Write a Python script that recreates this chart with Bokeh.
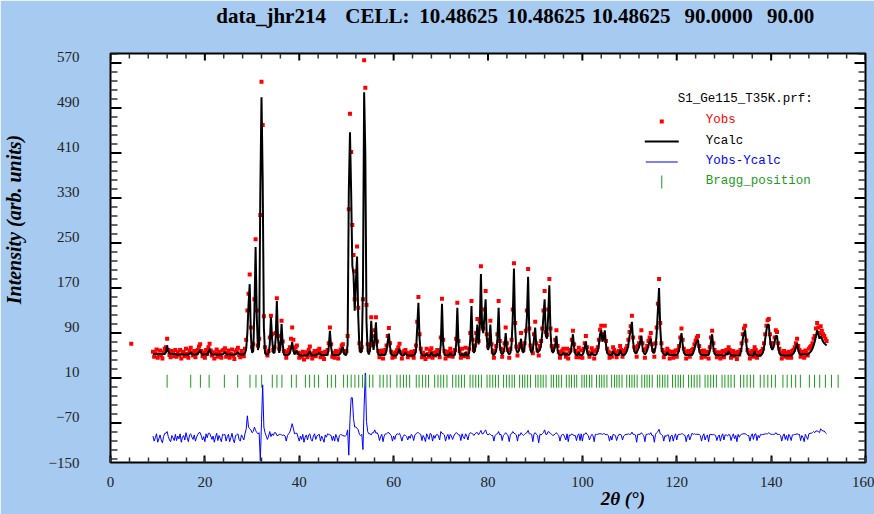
import numpy as np
from bokeh.plotting import figure
from bokeh.models import Range1d, LinearAxis, FixedTicker, Label
from bokeh.embed import file_html
from bokeh.resources import INLINE

# ---------------- data ----------------
two_theta_start = 9.0
two_theta_step = 0.25

y_calc = [
    43, 43, 43, 43, 43, 43, 43, 43, 43, 43, 43, 46, 58, 47, 44, 43, 43, 43, 43, 43,
    42, 42, 42, 42, 42, 42, 42, 42, 42, 42, 42, 43, 46, 43, 42, 42, 42, 42, 43, 46,
    50, 44, 42, 42, 42, 42, 42, 46, 52, 45, 42, 42, 42, 42, 42, 42, 42, 42, 42, 42,
    44, 46, 43, 42, 42, 42, 42, 42, 42, 42, 42, 44, 46, 43, 42, 42, 42, 42, 44, 52,
    80, 130, 167, 75, 45, 48, 120, 233, 110, 50, 60, 330, 499, 355, 90, 45, 42, 42, 44, 60,
    108, 70, 45, 45, 70, 137, 70, 45, 55, 96, 60, 42, 41, 41, 41, 42, 44, 52, 64, 50,
    42, 46, 49, 43, 41, 40, 40, 40, 40, 40, 40, 40, 44, 48, 43, 40, 40, 40, 41, 42,
    43, 45, 42, 41, 41, 41, 41, 41, 42, 55, 84, 55, 42, 41, 41, 41, 41, 41, 42, 44,
    52, 55, 44, 41, 42, 60, 330, 437, 330, 200, 184, 120, 170, 216, 110, 55, 45, 48, 160, 508,
    400, 100, 48, 42, 50, 102, 65, 50, 70, 99, 55, 42, 41, 41, 42, 41, 41, 42, 50, 65,
    79, 55, 42, 41, 40, 40, 40, 42, 48, 52, 43, 40, 40, 42, 45, 42, 40, 40, 40, 40,
    40, 40, 42, 50, 90, 134, 70, 45, 41, 40, 40, 40, 44, 40, 40, 40, 46, 41, 40, 40,
    40, 43, 40, 40, 60, 132, 60, 42, 40, 40, 40, 41, 45, 41, 40, 40, 42, 60, 125, 60,
    42, 40, 44, 40, 40, 46, 40, 40, 45, 70, 128, 60, 45, 50, 70, 95, 60, 90, 185, 90,
    80, 110, 140, 70, 50, 60, 95, 55, 42, 41, 44, 50, 70, 125, 60, 45, 42, 45, 55, 80,
    55, 45, 42, 45, 60, 110, 195, 90, 50, 45, 48, 55, 70, 50, 45, 55, 75, 110, 180, 80,
    50, 45, 50, 70, 90, 55, 45, 48, 50, 60, 80, 110, 140, 75, 70, 110, 165, 80, 50, 45,
    50, 60, 75, 50, 42, 41, 41, 42, 45, 42, 41, 44, 41, 42, 45, 60, 78, 55, 43, 41,
    41, 46, 41, 41, 41, 45, 55, 65, 48, 41, 41, 41, 46, 42, 41, 41, 43, 48, 60, 78,
    85, 65, 70, 85, 60, 45, 42, 41, 41, 41, 48, 44, 41, 41, 41, 41, 50, 44, 41, 41,
    42, 45, 50, 60, 75, 85, 100, 65, 48, 44, 45, 50, 55, 65, 75, 55, 45, 42, 45, 50,
    58, 65, 70, 55, 45, 45, 55, 80, 120, 160, 90, 55, 45, 42, 41, 41, 46, 42, 41, 41,
    41, 41, 41, 41, 41, 44, 50, 65, 80, 60, 46, 42, 41, 41, 41, 41, 41, 41, 45, 52,
    60, 65, 68, 50, 43, 41, 41, 41, 41, 41, 41, 41, 48, 65, 78, 55, 44, 41, 41, 41,
    40, 40, 40, 40, 40, 41, 44, 41, 48, 44, 40, 40, 40, 40, 40, 40, 40, 40, 44, 55,
    70, 80, 85, 60, 45, 41, 40, 40, 40, 40, 48, 42, 40, 40, 40, 40, 42, 45, 55, 70,
    85, 95, 95, 70, 55, 50, 55, 65, 75, 75, 55, 45, 41, 40, 40, 40, 40, 40, 40, 40,
    40, 40, 42, 44, 48, 55, 62, 50, 43, 42, 42, 42, 42, 42, 42, 42, 44, 46, 48, 52,
    58, 65, 75, 85, 78, 70, 75, 70, 65, 62, 60, 58,
]

y_obs = [
    47, 38, 44, 51, 36, 42, 49, 40, 35, 46, 52, 55, 70, 50, 41, 37, 48, 44, 39, 50,
    38, 46, 41, 50, 35, 44, 47, 39, 52, 43, 36, 49, 54, 45, 40, 48, 37, 44, 50, 56,
    60, 48, 39, 45, 36, 50, 43, 55, 61, 49, 40, 46, 35, 44, 51, 38, 47, 42, 36, 49,
    50, 53, 38, 45, 49, 36, 43, 51, 40, 34, 47, 50, 54, 41, 37, 48, 44, 39, 52, 68,
    120, 150, 184, 90, 55, 60, 140, 247, 120, 58, 70, 290, 527, 450, 110, 55, 46, 40, 48, 72,
    111, 78, 50, 55, 80, 142, 75, 52, 62, 102, 65, 48, 45, 36, 46, 50, 55, 70, 90, 68,
    50, 55, 58, 45, 36, 44, 38, 47, 33, 42, 46, 37, 50, 56, 41, 35, 44, 48, 39, 46,
    49, 52, 37, 45, 40, 34, 47, 43, 50, 62, 90, 60, 38, 45, 36, 48, 42, 35, 47, 51,
    58, 60, 48, 45, 48, 75, 300, 470, 402, 272, 219, 140, 190, 234, 125, 62, 50, 55, 140, 565,
    516, 130, 60, 50, 58, 108, 75, 60, 85, 108, 65, 48, 37, 44, 49, 35, 45, 50, 58, 75,
    89, 62, 47, 36, 44, 38, 46, 50, 55, 61, 46, 35, 43, 48, 50, 45, 37, 44, 40, 47,
    44, 36, 48, 58, 100, 144, 78, 52, 37, 45, 41, 34, 52, 43, 38, 49, 53, 36, 45, 40,
    46, 50, 44, 37, 72, 141, 68, 48, 35, 43, 47, 39, 52, 45, 38, 44, 50, 70, 134, 66,
    48, 36, 52, 42, 39, 54, 44, 37, 52, 80, 137, 68, 50, 58, 80, 105, 66, 100, 199, 98,
    88, 122, 155, 78, 56, 68, 102, 60, 47, 36, 49, 57, 78, 137, 66, 52, 38, 50, 62, 90,
    62, 50, 36, 52, 68, 122, 204, 98, 56, 40, 55, 60, 80, 57, 50, 62, 84, 120, 194, 88,
    58, 52, 44, 78, 100, 62, 50, 40, 57, 66, 88, 120, 155, 82, 77, 122, 176, 88, 57, 50,
    56, 68, 85, 57, 47, 36, 45, 49, 52, 44, 38, 52, 35, 48, 50, 68, 84, 60, 48, 37,
    46, 54, 37, 49, 36, 52, 62, 75, 55, 46, 38, 44, 53, 47, 35, 48, 50, 55, 68, 86,
    93, 72, 78, 93, 66, 52, 47, 36, 45, 38, 55, 50, 46, 37, 44, 48, 57, 50, 38, 45,
    48, 52, 57, 68, 82, 92, 111, 72, 55, 50, 38, 57, 62, 72, 85, 62, 50, 36, 52, 57,
    66, 72, 80, 60, 50, 38, 62, 90, 132, 176, 98, 62, 50, 37, 46, 44, 52, 48, 35, 45,
    47, 36, 44, 49, 38, 50, 57, 72, 88, 68, 52, 47, 35, 45, 48, 38, 44, 50, 52, 60,
    67, 72, 75, 57, 48, 36, 45, 49, 38, 44, 47, 35, 55, 72, 84, 62, 50, 46, 37, 44,
    46, 35, 44, 48, 37, 47, 50, 45, 55, 50, 36, 43, 48, 39, 45, 34, 47, 42, 50, 62,
    78, 88, 93, 67, 50, 46, 35, 44, 48, 38, 55, 50, 36, 45, 41, 47, 48, 52, 62, 78,
    93, 103, 105, 78, 62, 57, 62, 72, 85, 82, 62, 52, 46, 35, 44, 48, 38, 45, 36, 47,
    43, 36, 48, 50, 55, 62, 70, 57, 50, 38, 47, 44, 36, 49, 45, 40, 52, 55, 57, 62,
    70, 75, 88, 98, 90, 80, 92, 84, 78, 75, 70, 66,
]

bragg_two_theta = [
    12.0, 17.0, 19.05, 20.9, 24.13, 26.95, 29.56, 30.83, 32.03, 34.29, 35.27, 36.33,
    38.38, 39.37, 41.3, 42.2, 43.2, 44.1, 46.0, 46.8, 47.7, 49.4, 50.2, 51.0, 51.8,
    52.6, 53.4, 54.1, 54.9, 55.6, 57.1, 57.8, 58.6, 59.3, 60.7, 61.4, 62.1, 62.7,
    63.4, 64.8, 65.4, 66.1, 66.8, 67.4, 68.7, 69.4, 70.0, 70.6, 71.3, 72.5, 73.2,
    73.8, 74.4, 75.0, 76.2, 76.8, 77.4, 78.0, 78.6, 79.8, 80.4, 81.0, 81.6, 82.2,
    83.3, 83.9, 84.5, 85.1, 85.6, 86.7, 87.3, 87.8, 88.4, 89.0, 90.1, 90.6, 91.2,
    91.7, 92.3, 93.4, 93.9, 94.5, 95.0, 95.6, 96.6, 97.2, 97.7, 98.3, 98.8, 99.9,
    100.4, 100.9, 101.5, 102.0, 103.0, 103.6, 104.1, 104.6, 105.2, 106.2, 106.8,
    107.3, 107.8, 108.4, 109.4, 110.0, 110.5, 111.0, 111.6, 112.6, 113.2, 113.7,
    114.2, 114.8, 115.9, 116.4, 117.0, 117.5, 118.1, 119.1, 119.7, 120.3, 120.8,
    121.4, 122.5, 123.1, 123.7, 124.3, 124.9, 126.0, 126.6, 127.2, 127.8, 128.4,
    129.6, 130.2, 130.9, 131.5, 132.2, 133.5, 134.2, 134.9, 135.6, 136.3, 137.7,
    138.5, 139.3, 140.1, 140.9, 142.5, 143.4, 144.3, 145.2, 146.2, 148.1, 149.2,
    150.3, 151.5, 152.8, 154.2,
]

stray_two_theta = [4.4]
stray_obs = [61]
diff_offset = -107

x_tick_values = [0, 20, 40, 60, 80, 100, 120, 140, 160]
x_minor_values = list(range(0, 161, 4))
y_label_values = [-150, -70, 10, 90, 170, 250, 330, 410, 490, 570]
y_mark_values = [-80, 0, 80, 160, 240, 320, 400, 480, 560]
y_minor_values = [v for v in range(-144, 577, 16) if v % 80 != 0]

title_parts = ["data_jhr214", "CELL:", "10.48625", "10.48625", "10.48625", "90.0000", "90.00"]
legend_texts = ["S1_Ge115_T35K.prf:", "Yobs", "Ycalc", "Yobs-Ycalc", "Bragg_position"]
x_title = "2θ (°)"
y_title = "Intensity (arb. units)"

# ---------------- layout constants ----------------
X_MIN, X_MAX, Y_MIN, Y_MAX = 0, 160, -150, 577
W, H = 874, 514
FX0, FX1, FY0, FY1 = 109, 865, 53, 462          # page pixel edges of the plot frame
XU = (X_MAX - X_MIN) / (FX1 - FX0)              # data units per pixel
YU = (Y_MAX - Y_MIN) / (FY1 - FY0)


def px_to_x(px):
    return X_MIN + (px - FX0) * XU


def py_to_y(py):
    return Y_MIN + (FY1 - py) * YU


BLUE_BG = "#A6CAF0"
GREEN = "#1E9A1E"
SERIF = "Liberation Serif"

x = two_theta_start + two_theta_step * np.arange(len(y_obs))
yo = np.array(y_obs, dtype=float)
yc = np.array(y_calc, dtype=float)
diff = yo - yc + diff_offset

p = figure(width=W, height=H, x_range=Range1d(X_MIN, X_MAX), y_range=Range1d(Y_MIN, Y_MAX),
           output_backend="svg", toolbar_location=None, title=None,
           x_axis_location=None, y_axis_location=None,
           min_border_left=FX0, min_border_right=W - FX1,
           min_border_top=FY0, min_border_bottom=H - FY1)
p.grid.grid_line_color = None
p.background_fill_color = "white"
p.border_fill_color = BLUE_BG
p.outline_line_color = "black"
p.outline_line_width = 2


def bare_axis(ax):
    ax.axis_line_color = None
    ax.major_tick_line_color = None
    ax.minor_tick_line_color = None
    ax.major_tick_in = 0
    ax.major_tick_out = 0
    ax.minor_tick_in = 0
    ax.minor_tick_out = 0
    ax.major_label_text_color = "black"


# bottom axis: ticks inside + numbers
xb = LinearAxis(ticker=FixedTicker(ticks=x_tick_values, minor_ticks=x_minor_values))
xb.axis_line_color = None
xb.major_tick_in, xb.major_tick_out = 7, 0
xb.minor_tick_in, xb.minor_tick_out = 5, 0
xb.major_tick_line_width = 2
xb.minor_tick_line_width = 1.5
xb.minor_tick_line_color = "#333333"
xb.major_label_text_font = SERIF
xb.major_label_text_font_size = "15px"
xb.major_label_text_color = "#222222"
xb.major_label_standoff = 14
p.add_layout(xb, "below")

# bottom axis title, placed as a single label
xt_pos = round(px_to_x(622), 3)
xtitle = LinearAxis(ticker=FixedTicker(ticks=[xt_pos], minor_ticks=[]),
                    major_label_overrides={xt_pos: x_title})
bare_axis(xtitle)
xtitle.major_label_text_font = SERIF
xtitle.major_label_text_font_style = "bold italic"
xtitle.major_label_text_font_size = "19px"
xtitle.major_label_standoff = -2
p.add_layout(xtitle, "below")

# left numbers (WinPLOTR places them between the tick marks)
ylab = LinearAxis(ticker=FixedTicker(ticks=y_label_values, minor_ticks=[]))
bare_axis(ylab)
ylab.major_label_text_font = SERIF
ylab.major_label_text_font_size = "15px"
ylab.major_label_text_color = "#222222"
ylab.major_label_standoff = 31
p.add_layout(ylab, "left")

# left axis title
yt_pos = round(py_to_y(219), 3)
ytitle = LinearAxis(ticker=FixedTicker(ticks=[yt_pos], minor_ticks=[]),
                    major_label_overrides={yt_pos: y_title})
bare_axis(ytitle)
ytitle.major_label_orientation = "parallel"
ytitle.major_label_text_font = SERIF
ytitle.major_label_text_font_style = "bold italic"
ytitle.major_label_text_font_size = "20px"
ytitle.major_label_standoff = 20
p.add_layout(ytitle, "left")

# header line above the frame
title_centers_px = [269.8, 376.3, 457.5, 545.0, 630.2, 718.0, 790.0]
title_ticks = [round(px_to_x(c), 3) for c in title_centers_px]
ttl = LinearAxis(ticker=FixedTicker(ticks=title_ticks, minor_ticks=[]),
                 major_label_overrides=dict(zip(title_ticks, title_parts)))
bare_axis(ttl)
ttl.major_label_text_font = SERIF
ttl.major_label_text_font_style = "bold"
ttl.major_label_text_font_size = "21px"
ttl.major_label_standoff = 26
p.add_layout(ttl, "above")

# inward tick marks on the left, right and top frame edges
tick_col, minor_col = "black", "#333333"
p.segment(x0=X_MIN, y0=y_mark_values, x1=X_MIN + 11 * XU, y1=y_mark_values,
          line_color=tick_col, line_width=2)
p.segment(x0=X_MIN, y0=y_minor_values, x1=X_MIN + 7 * XU, y1=y_minor_values,
          line_color=minor_col, line_width=1.5)
p.segment(x0=X_MAX - 11 * XU, y0=y_mark_values, x1=X_MAX, y1=y_mark_values,
          line_color=tick_col, line_width=2)
p.segment(x0=X_MAX - 7 * XU, y0=y_minor_values, x1=X_MAX, y1=y_minor_values,
          line_color=minor_col, line_width=1.5)
x_minor_only = [v for v in x_minor_values if v not in x_tick_values]
p.segment(x0=x_tick_values, y0=Y_MAX - 7 * YU, x1=x_tick_values, y1=Y_MAX,
          line_color=tick_col, line_width=2)
p.segment(x0=x_minor_only, y0=Y_MAX - 5 * YU, x1=x_minor_only, y1=Y_MAX,
          line_color=minor_col, line_width=1.5)

# ---------------- data glyphs ----------------
p.scatter(x, yo, marker="square", size=4, color="#FF0000", line_color=None)
p.scatter(stray_two_theta, stray_obs, marker="square", size=4, color="#FF0000", line_color=None)
p.line(x, yc, line_color="black", line_width=2)
p.line(x, diff, line_color="#0000FF", line_width=1)
p.segment(x0=bragg_two_theta, y0=-17, x1=bragg_two_theta, y1=6, line_color=GREEN, line_width=1)

# ---------------- legend (drawn by hand, as in the original) ----------------
p.scatter([px_to_x(661)], [py_to_y(121)], marker="square", size=4, color="#FF0000", line_color=None)
p.line([px_to_x(644), px_to_x(678)], [py_to_y(141), py_to_y(141)], line_color="black", line_width=2)
p.line([px_to_x(645), px_to_x(677)], [py_to_y(161.5), py_to_y(161.5)], line_color="#0000FF", line_width=1)
p.segment(x0=[px_to_x(661)], y0=[py_to_y(188)], x1=[px_to_x(661)], y1=[py_to_y(175)],
          line_color=GREEN, line_width=1)

legend_pos = [(677, 98, "black"), (705, 119.5, "#FF0000"), (705, 140, "black"),
              (705, 160.5, "#0000FF"), (705, 180.5, GREEN)]
for txt, (lx, ly, col) in zip(legend_texts, legend_pos):
    p.add_layout(Label(x=px_to_x(lx), y=py_to_y(ly), text=txt, text_font="Liberation Mono",
                       text_font_size="12.5px", text_color=col, text_baseline="middle",
                       text_align="left"))

open("out.html", "w").write(file_html(p, INLINE))
